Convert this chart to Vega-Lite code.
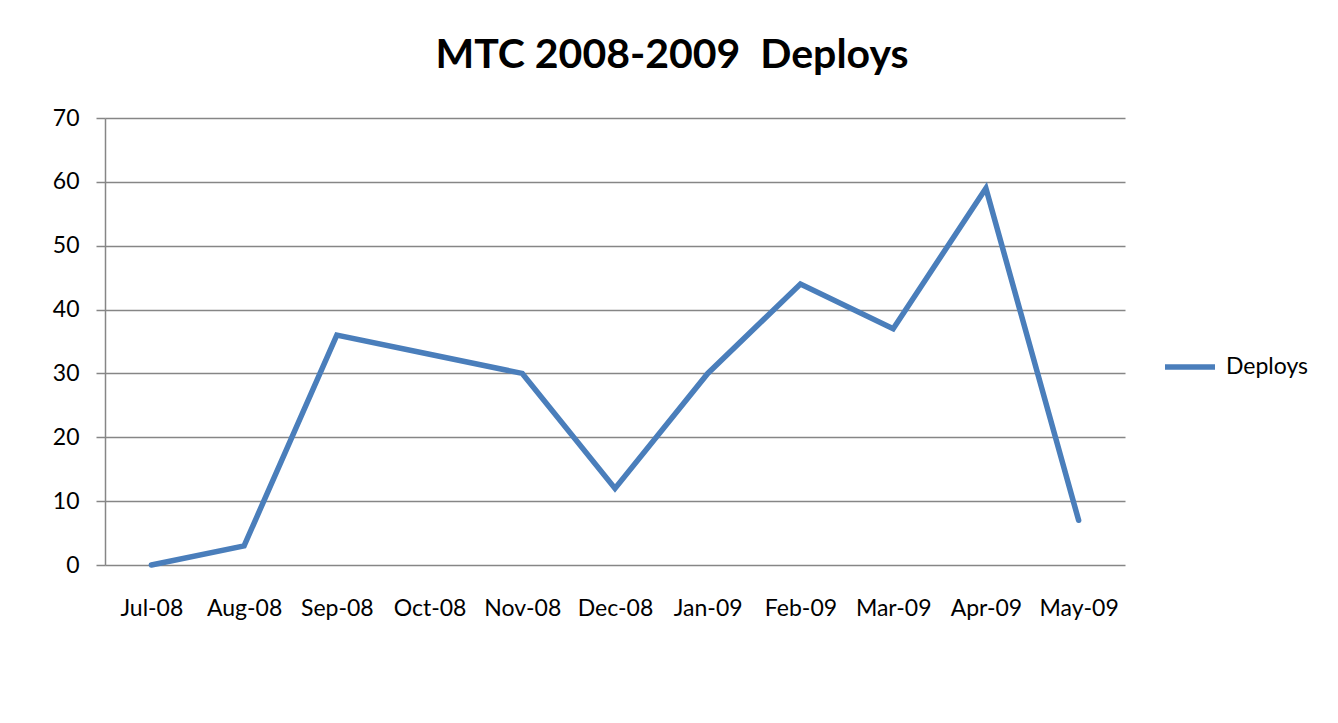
{
  "$schema": "https://vega.github.io/schema/vega-lite/v6.json",
  "width": 1020,
  "height": 447,
  "autosize": {"type": "none"},
  "padding": {"left": 105, "top": 118, "right": 213, "bottom": 158},
  "background": "white",
  "title": {
    "text": "MTC 2008-2009 \u00a0Deploys",
    "font": "Lato",
    "fontSize": 41,
    "fontWeight": "bold",
    "color": "#000000",
    "anchor": "middle",
    "dx": 57,
    "offset": 30
  },
  "data": {
    "values": [
      {"month": "Jul-08", "series": "Deploys", "value": 0},
      {"month": "Aug-08", "series": "Deploys", "value": 3},
      {"month": "Sep-08", "series": "Deploys", "value": 36},
      {"month": "Oct-08", "series": "Deploys", "value": 33},
      {"month": "Nov-08", "series": "Deploys", "value": 30},
      {"month": "Dec-08", "series": "Deploys", "value": 12},
      {"month": "Jan-09", "series": "Deploys", "value": 30},
      {"month": "Feb-09", "series": "Deploys", "value": 44},
      {"month": "Mar-09", "series": "Deploys", "value": 37},
      {"month": "Apr-09", "series": "Deploys", "value": 59},
      {"month": "May-09", "series": "Deploys", "value": 7}
    ]
  },
  "mark": {"type": "line", "strokeWidth": 5.5, "strokeCap": "round", "strokeJoin": "miter"},
  "encoding": {
    "x": {
      "field": "month",
      "type": "ordinal",
      "sort": null,
      "scale": {"type": "point", "padding": 0.5},
      "axis": {
        "title": null,
        "labelAngle": 0,
        "labelFont": "Lato",
        "labelFontSize": 23,
        "labelColor": "#000000",
        "labelPadding": 32,
        "ticks": false,
        "domain": false,
        "grid": false
      }
    },
    "y": {
      "field": "value",
      "type": "quantitative",
      "scale": {"domain": [0, 70], "nice": false},
      "axis": {
        "title": null,
        "values": [0, 10, 20, 30, 40, 50, 60, 70],
        "labelFont": "Lato",
        "labelFontSize": 23,
        "labelColor": "#000000",
        "labelPadding": 17,
        "tickSize": 9,
        "tickColor": "#868686",
        "tickWidth": 1.5,
        "domainColor": "#868686",
        "domainWidth": 1.5,
        "grid": true,
        "gridColor": "#868686",
        "gridWidth": 1.5
      }
    },
    "color": {
      "field": "series",
      "type": "nominal",
      "scale": {"range": ["#4A7EBB"]},
      "legend": {
        "title": null,
        "orient": "none",
        "legendX": 1057,
        "legendY": 221,
        "symbolType": "stroke",
        "symbolSize": 2500,
        "symbolStrokeWidth": 5.5,
        "labelFont": "Lato",
        "labelFontSize": 23,
        "labelColor": "#000000",
        "labelOffset": 8
      }
    }
  },
  "config": {"view": {"stroke": null}}
}
